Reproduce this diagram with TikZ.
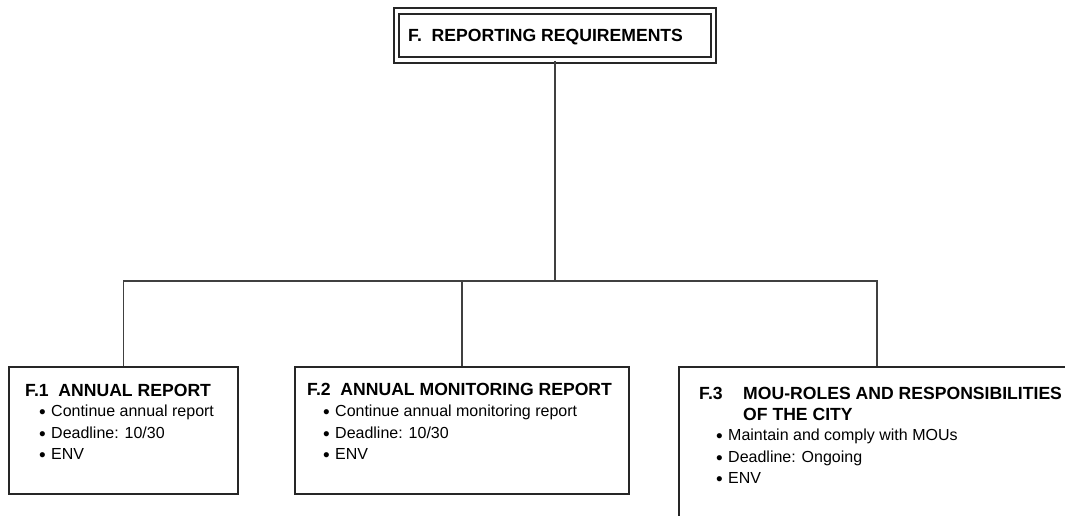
\documentclass[tikz,border=0pt]{standalone}
\usepackage{fontspec}
\setmainfont{Liberation Sans}
\newcommand{\bul}{\makebox[12pt][l]{\raisebox{-2.2pt}{\fontsize{19}{20}\selectfont•}}}
\begin{document}
\begin{tikzpicture}[x=1pt,y=-1pt,
  box/.style={draw=black!85, line width=2pt, inner sep=0pt, anchor=north west, fill=white},
  topbox/.style={draw=black!85, line width=1.9pt, double=white, double distance=3.4pt, inner sep=0pt},
  ttl/.style={anchor=base west, inner sep=0pt, font=\fontsize{17.6}{20}\selectfont\bfseries},
  itm/.style={anchor=base west, inner sep=0pt, font=\fontsize{16}{20}\selectfont},
  conn/.style={draw=black!75, line width=1.6pt}]
\useasboundingbox (0,0) rectangle (1065,516);
\clip (0,0) rectangle (1065,516);
% top box
\node[topbox, minimum width=317pt, minimum height=49pt] (top) at (555,35.5) {};
\node[ttl] (toptxt) at (408,42) {F.\ \ REPORTING REQUIREMENTS};
% boxes
\node[box, minimum width=229pt, minimum height=127pt] (f1) at (8,366) {};
\node[box, minimum width=334pt, minimum height=127pt] (f2) at (294,366) {};
\node[box, minimum width=396pt, minimum height=155pt] (f3) at (678,366) {};
% connectors
\coordinate (j) at (555,281);
\draw[conn] (top.south) -- (j);
\draw[conn] (f1.north) |- (j) -| (f3.north);
\draw[conn] (f2.north) -- (f2.north |- j);
% F1 text
\node[ttl] (f1t) at (25,396) {F.1\ \ ANNUAL REPORT};
\node[itm] (f1a) at (39,416) {\bul Continue annual report};
\node[itm] (f1b) at (39,438) {\bul Deadline: 10/30};
\node[itm] (f1c) at (39,459) {\bul ENV};
% F2 text
\node[ttl] (f2t) at (307,395) {F.2\ \ ANNUAL MONITORING REPORT};
\node[itm] (f2a) at (323,416) {\bul Continue annual monitoring report};
\node[itm] (f2b) at (323,438) {\bul Deadline: 10/30};
\node[itm] (f2c) at (323,459) {\bul ENV};
% F3 text
\node[ttl] (f3n) at (699,399) {F.3};
\node[ttl] (f3t) at (743,399) {MOU-ROLES AND RESPONSIBILITIES};
\node[ttl] (f3u) at (743,420) {OF THE CITY};
\node[itm] (f3a) at (716,440) {\bul Maintain and comply with MOUs};
\node[itm] (f3b) at (716,462) {\bul Deadline: Ongoing};
\node[itm] (f3c) at (716,483) {\bul ENV};
\end{tikzpicture}
\end{document}
